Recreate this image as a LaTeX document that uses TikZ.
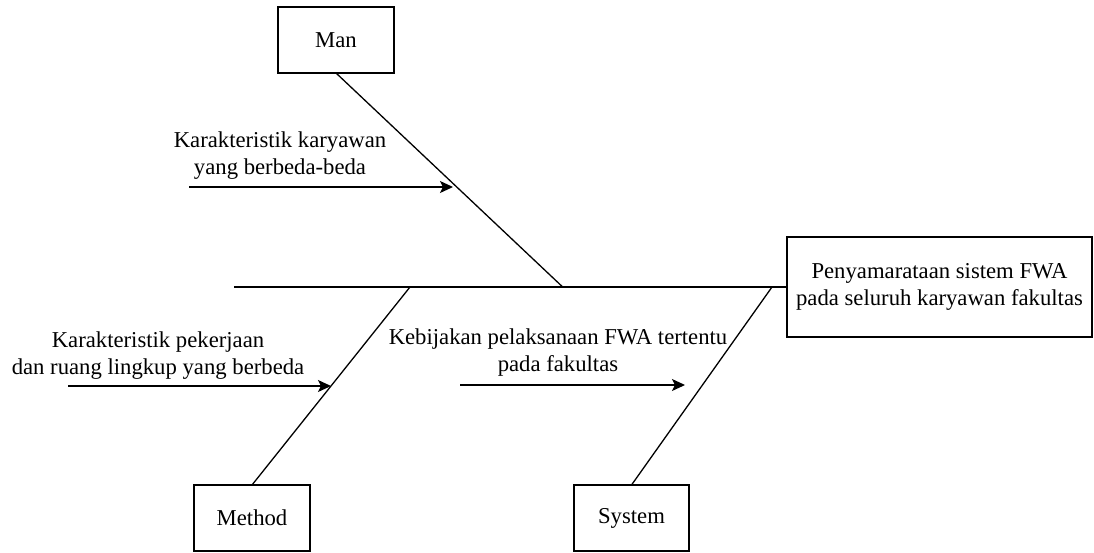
\documentclass[tikz,border=0pt]{standalone}
\usepackage{fontspec}
\setmainfont{Liberation Serif}
\usetikzlibrary{arrows.meta}
\begin{document}
\begin{tikzpicture}[x=1pt,y=-1pt,
  line width=1.3pt,
  every node/.style={inner sep=0pt,outer sep=0pt,font=\fontsize{22.7}{27}\selectfont},
  catbox/.style={draw,minimum width=116pt,minimum height=66pt},
  effbox/.style={draw,minimum width=305pt,minimum height=100pt,align=center},
  lbl/.style={align=center},
  bone/.style={draw},
  cause/.style={-{Stealth[length=13pt,width=12pt,inset=3pt]}}
]
\useasboundingbox (0,0) rectangle (1094,552);
% boxes
\node[catbox] (man) at (336,40) {Man};
\node[catbox] (method) at (252,518) {Method};
\node[catbox,minimum width=115pt] (system) at (631.5,518) {System};
\node[effbox] (effect) at (939.5,287) {Penyamarataan sistem FWA\\pada seluruh karyawan fakultas};
% spine and bone junctions
\coordinate (tail) at (234,287);
\coordinate (jman) at (562.7,287);
\coordinate (jmethod) at (410,287);
\coordinate (jsystem) at (772,287);
\draw[bone] (tail) -- (effect.west);
\draw[bone] (man.south) -- (jman);
\draw[bone] (method.north) -- (jmethod);
\draw[bone] (system.north) -- (jsystem);
% causes
\coordinate (a1s) at (189,187);
\coordinate (a1e) at (453,187);
\coordinate (a2s) at (68,386);
\coordinate (a2e) at (331,386);
\coordinate (a3s) at (460,385);
\coordinate (a3e) at (685,385);
\draw[cause] (a1s) -- (a1e);
\draw[cause] (a2s) -- (a2e);
\draw[cause] (a3s) -- (a3e);
\node[lbl] (t1) at (280,156) {Karakteristik karyawan\\yang berbeda-beda};
\node[lbl] (t2) at (158,356) {Karakteristik pekerjaan\\dan ruang lingkup yang berbeda};
\node[lbl] (t3) at (558,353) {Kebijakan pelaksanaan FWA tertentu\\pada fakultas};
\end{tikzpicture}
\end{document}
